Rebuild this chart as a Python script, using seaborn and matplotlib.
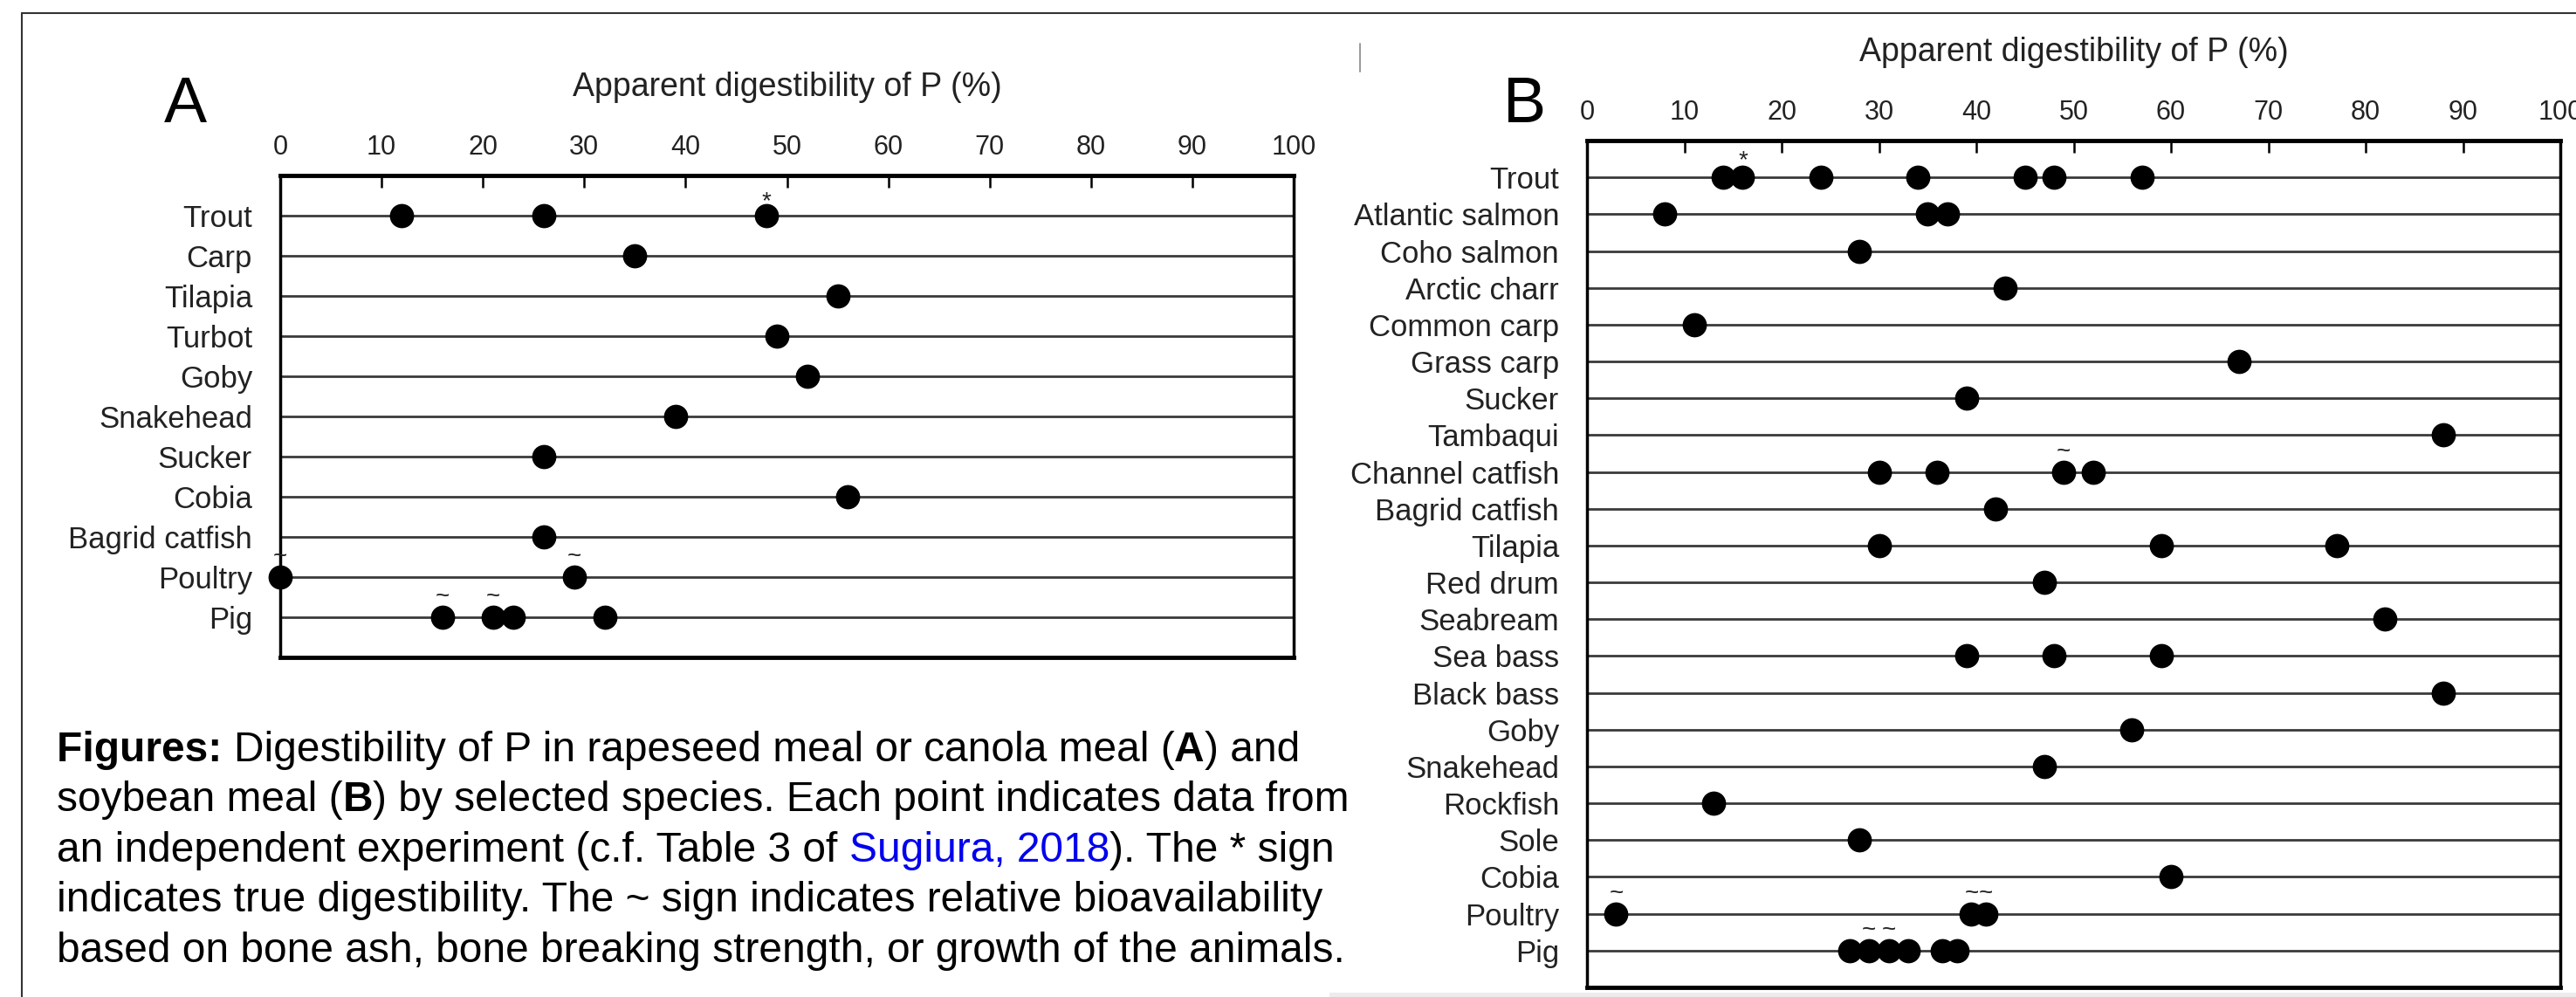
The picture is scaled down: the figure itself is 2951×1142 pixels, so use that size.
import matplotlib
matplotlib.use("Agg")
import matplotlib.pyplot as plt
import seaborn as sns
import pandas as pd
from matplotlib.lines import Line2D
from matplotlib.patches import Rectangle

# ---------------- data ----------------
tick_values = [0, 10, 20, 30, 40, 50, 60, 70, 80, 90, 100]
xlabel_text = "Apparent digestibility of P (%)"

species_a = ["Trout", "Carp", "Tilapia", "Turbot", "Goby", "Snakehead",
             "Sucker", "Cobia", "Bagrid catfish", "Poultry", "Pig"]
values_a = [[12, 26, 48], [35], [55], [49], [52], [39],
            [26], [56], [26], [0, 29], [16, 21, 23, 32]]
mark_a_species = ["Trout", "Poultry", "Poultry", "Pig", "Pig"]
mark_a_values = [48, 0, 29, 16, 21]
mark_a_symbols = ["*", "~", "~", "~", "~"]

species_b = ["Trout", "Atlantic salmon", "Coho salmon", "Arctic charr",
             "Common carp", "Grass carp", "Sucker", "Tambaqui",
             "Channel catfish", "Bagrid catfish", "Tilapia", "Red drum",
             "Seabream", "Sea bass", "Black bass", "Goby", "Snakehead",
             "Rockfish", "Sole", "Cobia", "Poultry", "Pig"]
values_b = [[14, 16, 24, 34, 45, 48, 57], [8, 35, 37], [28], [43], [11], [67],
            [39], [88], [30, 36, 49, 52], [42], [30, 59, 77], [47], [82],
            [39, 48, 59], [88], [56], [47], [13], [28], [60],
            [3, 39.5, 41], [27, 29, 31, 33, 36.5, 38]]
mark_b_species = ["Trout", "Channel catfish", "Poultry", "Poultry", "Poultry",
                  "Pig", "Pig"]
mark_b_values = [16, 49, 3, 39.5, 41, 29, 31]
mark_b_symbols = ["*", "~", "~", "~", "~", "~", "~"]

caption_lines = [
    [("Figures: ", "bold", "black"),
     ("Digestibility of P in rapeseed meal or canola meal (", "normal", "black"),
     ("A", "bold", "black"), (") and", "normal", "black")],
    [("soybean meal (", "normal", "black"), ("B", "bold", "black"),
     (") by selected species. Each point indicates data from", "normal", "black")],
    [("an independent experiment (c.f. Table 3 of ", "normal", "black"),
     ("Sugiura, 2018", "normal", "#0000EE"),
     ("). The * sign", "normal", "black")],
    [("indicates true digestibility. The ~ sign indicates relative bioavailability",
      "normal", "black")],
    [("based on bone ash, bone breaking strength, or growth of the animals.",
      "normal", "black")],
]

# ---------------- style ----------------
sns.set_style("white")
plt.rcParams["font.family"] = ["Liberation Sans", "DejaVu Sans"]

W, H = 2951, 1142
fig = plt.figure(figsize=(W / 100, H / 100), dpi=100)
fig.patch.set_facecolor("white")


def fx(px):
    return px / W


def fy(py):
    return 1 - py / H


def draw_panel(ax, species, values, m_species, m_values, m_symbols, star_off):
    df = pd.DataFrame({
        "species": [s for s, vs in zip(species, values) for _ in vs],
        "value": [v for vs in values for v in vs],
    })
    sns.stripplot(data=df, x="value", y="species", order=species,
                  jitter=False, color="black", size=20, linewidth=0,
                  ax=ax, zorder=3)
    for c in ax.collections:
        c.set_clip_on(False)
    ax.set_xlim(0, 100)
    ax.set_ylim(len(species), -1)
    ax.set_xticks(tick_values)
    ax.xaxis.tick_top()
    ax.xaxis.set_label_position("top")
    ax.tick_params(axis="x", direction="in", length=10, width=1.8, pad=12,
                   labelsize=22, labelcolor="#222222", top=True, bottom=False,
                   color="black")
    ax.tick_params(axis="y", length=0, pad=23, labelsize=25,
                   labelcolor="#222222", left=True)
    ax.set_ylabel("")
    ax.set_xlabel(xlabel_text, fontsize=27, labelpad=32, color="#222222")
    ax.grid(False)
    ax.yaxis.grid(True, color="#3a3a3a", lw=2)
    ax.set_axisbelow(True)
    for side in ["top", "bottom"]:
        ax.spines[side].set_linewidth(3.5)
        ax.spines[side].set_color("black")
        ax.spines[side].set_visible(True)
    for side in ["left", "right"]:
        ax.spines[side].set_linewidth(2.5)
        ax.spines[side].set_color("black")
        ax.spines[side].set_visible(True)
    idx = {s: i for i, s in enumerate(species)}
    for s, v, sym in zip(m_species, m_values, m_symbols):
        off = star_off if sym == "*" else 11.5
        ax.annotate(sym, xy=(v, idx[s]), xytext=(0, off),
                    textcoords="offset points", ha="center", va="baseline",
                    fontsize=20, color="#222222", annotation_clip=False)


# Panel A axes (pixel box: left 321, right 1482, top 201, bottom 753)
axA = fig.add_axes([fx(321), fy(753), fx(1482) - fx(321), (753 - 201) / H])
draw_panel(axA, species_a, values_a, mark_a_species, mark_a_values,
           mark_a_symbols, 6.5)

# Panel B axes (pixel box: left 1818, right 2933, top 161, bottom 1131)
axB = fig.add_axes([fx(1818), fy(1131), fx(2933) - fx(1818), (1131 - 161) / H])
draw_panel(axB, species_b, values_b, mark_b_species, mark_b_values,
           mark_b_symbols, 8.5)

# Panel letters
fig.text(fx(188), fy(140), "A", fontsize=53, va="baseline", ha="left", color="black")
fig.text(fx(1722), fy(140), "B", fontsize=53, va="baseline", ha="left", color="black")

# Frame lines
fig.add_artist(Line2D([fx(25), 1], [fy(15), fy(15)], transform=fig.transFigure,
                      color="#333333", lw=1.5))
fig.add_artist(Line2D([fx(25), fx(25)], [0, fy(15)], transform=fig.transFigure,
                      color="#333333", lw=1.5))
fig.add_artist(Line2D([fx(1558), fx(1558)], [fy(82), fy(50)], transform=fig.transFigure,
                      color="#999999", lw=1.4))
fig.add_artist(Rectangle((fx(1523), 0), fx(2951) - fx(1523), 5 / H,
                         transform=fig.transFigure, color="#ececec", lw=0))

# Caption
renderer = fig.canvas.get_renderer()


def measure(s, **kw):
    t = fig.text(0, 0, s, **kw)
    w = t.get_window_extent(renderer).width
    t.remove()
    return w


def run_width(s, **kw):
    return measure(s + "|", **kw) - measure("|", **kw)


baselines = [872, 929, 987, 1044, 1102]
for line, by in zip(caption_lines, baselines):
    x = 65
    for text, weight, color in line:
        kw = dict(fontsize=34.5, fontweight=weight)
        fig.text(fx(x), fy(by), text, va="baseline", ha="left", color=color, **kw)
        x += run_width(text, **kw)

fig.savefig("out.png", dpi=100, facecolor="white")
